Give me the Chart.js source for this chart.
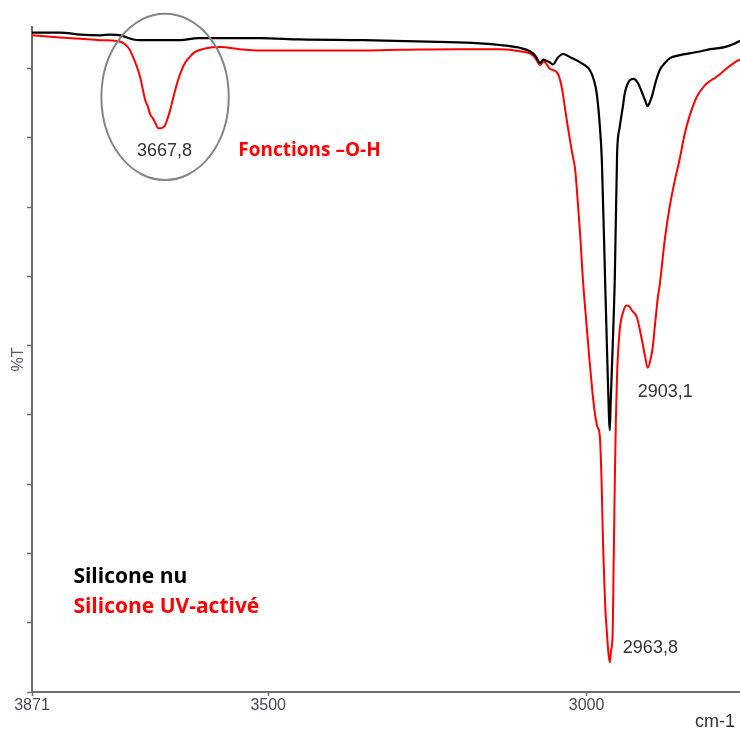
<!DOCTYPE html>
<html lang="fr">
<head>
<meta charset="utf-8">
<title>Spectre IR - silicone</title>
<script src="https://cdn.jsdelivr.net/npm/chart.js@4.4.1/dist/chart.umd.min.js"></script>
<style>
  html, body { margin: 0; padding: 0; background: #fff; }
  #wrap { position: relative; width: 740px; height: 731px; }
</style>
</head>
<body>
<div id="wrap"><canvas id="irChart"></canvas></div>
<script>
// IR spectrum (%T vs cm-1), silicone bare vs UV-activated
// values

// x axis: wavenumber range and the labelled ticks
const xTicks = [3871, 3500, 3000];
const xRange = [2759, 3871];
const yTickValues = [0, 10, 20, 30, 40, 50, 60, 70, 80, 90];

// Silicone nu (black)
const nuWavenumbers = [
  3871, 3827, 3795, 3764, 3748, 3732, 3712, 3701, 3670, 3638, 3610, 3591, 3513, 3450,
  3350, 3250, 3180, 3136, 3105, 3089, 3080, 3073, 3068, 3065, 3058, 3053, 3045, 3037,
  3025, 3010, 3000, 2995, 2989, 2984, 2979, 2976, 2971, 2968, 2966.5, 2963.5, 2962,
  2959, 2955.6, 2952, 2948, 2943, 2940, 2932, 2926, 2920, 2914, 2908, 2904, 2900, 2897,
  2891, 2885, 2877, 2869, 2855, 2838, 2820, 2806, 2783, 2770, 2759
];
const nuTransmittance = [
  95.2, 95.2, 94.9, 94.8, 94.9, 94.8, 94.2, 94.1, 94.1, 94.1, 94.4, 94.4, 94.4, 94.2,
  94.1, 93.9, 93.7, 93.4, 93.0, 92.5, 91.8, 90.8, 91.3, 91.2, 90.9, 90.6, 91.6, 92.1,
  91.6, 90.9, 90.3, 89.8, 88.5, 86.4, 81.5, 76.8, 59.9, 49.8, 45.0, 37.8, 42.1,
  49.8, 59.9, 77.8, 81.5, 84.5, 86.4, 88.3, 88.5, 88.0, 86.8, 85.4, 84.6, 85.3, 86.1,
  88.2, 89.8, 90.8, 91.5, 91.9, 92.2, 92.5, 92.8, 93.1, 93.5, 94.0
];

// Silicone UV-activé (red)
const uvWavenumbers = [
  3871, 3827, 3795, 3764, 3740, 3730, 3725, 3718, 3712, 3706, 3701, 3697, 3693, 3689,
  3685, 3681, 3677, 3673, 3668, 3662, 3658, 3654, 3650, 3646, 3642, 3638, 3630, 3622,
  3615, 3599, 3575, 3545, 3513, 3450, 3380, 3293, 3200, 3136, 3105, 3084, 3077, 3073,
  3068, 3065, 3058, 3047, 3043, 3039, 3035, 3031, 3027, 3023, 3018, 3014, 3010, 3006,
  3000, 2995, 2991, 2987, 2983, 2979, 2976, 2974, 2971, 2968, 2965.5, 2963.5, 2961.5,
  2959, 2957.5, 2955.6, 2954, 2952, 2948, 2943, 2937, 2933, 2929, 2921, 2913, 2908,
  2904, 2900, 2896, 2892, 2888, 2885, 2877, 2869, 2861, 2854, 2846, 2838, 2827, 2814,
  2806, 2799, 2790, 2783, 2767, 2759
];
const uvTransmittance = [
  94.8, 94.5, 94.3, 94.1, 94.0, 93.8, 93.5, 92.8, 91.6, 90.2, 88.7, 87.0, 85.4, 84.5,
  83.3, 82.8, 82.1, 81.4, 81.4, 81.8, 82.8, 84.0, 85.5, 86.9, 88.2, 89.3, 90.9, 91.8,
  92.4, 92.9, 93.1, 92.8, 92.6, 92.6, 92.6, 92.7, 92.8, 92.8, 92.5, 91.9, 91.0, 90.5,
  91.0, 90.9, 90.0, 89.5, 88.8, 87.3, 85.0, 82.5, 80.2, 78.0, 75.5, 71.0, 66.0, 59.9,
  53.0, 47.5, 43.5, 40.3, 38.3, 36.8, 29.0, 21.0, 13.0, 8.5, 5.5, 4.3, 6.0,
  8.5, 18.0, 30.6, 39.0, 46.0, 52.2, 54.7, 55.8, 55.7, 55.1, 54.1, 50.8, 48.4,
  46.8, 47.8, 49.8, 53.5, 57.0, 58.8, 65.4, 70.3, 74.0, 76.8, 80.5, 83.2, 85.9, 87.6,
  88.2, 88.6, 89.2, 89.8, 90.9, 91.3
];

// peak labels (anchored in data units: wavenumber, %T)
const peakLabels = ['3667,8', '2903,1', '2963,8'];
const peakAnchors = [[3663, 78.1], [2919.5, 43.3], [2943, 6.3]];

// coloured notes and legend text
const noteTexts = ['Fonctions \u2013O-H', 'Silicone nu', 'Silicone UV-activ\u00e9'];
const noteColors = ['#ff0000', '#000000', '#ff0000'];
const noteAnchors = [[3547, 78.2], [3806, 16.6], [3806, 12.3]];

// circle round the O-H band: centre and radii in data units
const ohCircle = { x: 3662, y: 85.9, rx: 100, ry: 12 };

const xUnitLabel = 'cm-1';

function toPoints(xs, ys) {
  return xs.map((w, i) => ({ x: w, y: ys[i] }));
}

// draws the circle, peak numbers, coloured texts and the unit label
const notesPlugin = {
  id: 'notes',
  afterDatasetsDraw(chart) {
    const { ctx, chartArea } = chart;
    const xs = chart.scales.x;
    const ys = chart.scales.y;
    ctx.save();

    // ellipse
    const cx = xs.getPixelForValue(ohCircle.x);
    const cy = ys.getPixelForValue(ohCircle.y);
    const rx = Math.abs(xs.getPixelForValue(ohCircle.x - ohCircle.rx) - cx);
    const ry = Math.abs(ys.getPixelForValue(ohCircle.y - ohCircle.ry) - cy);
    ctx.beginPath();
    ctx.ellipse(cx, cy, rx, ry, 0, 0, Math.PI * 2);
    ctx.strokeStyle = '#858585';
    ctx.lineWidth = 2;
    ctx.stroke();

    // peak numbers
    ctx.font = '18px "Liberation Sans", Arial, sans-serif';
    ctx.fillStyle = '#333333';
    ctx.textBaseline = 'middle';
    peakLabels.forEach((txt, i) => {
      const px = xs.getPixelForValue(peakAnchors[i][0]);
      const py = ys.getPixelForValue(peakAnchors[i][1]);
      ctx.textAlign = i === 0 ? 'center' : 'left';
      ctx.fillText(txt, px, py);
    });

    // notes / legend
    ctx.textAlign = 'left';
    noteTexts.forEach((txt, i) => {
      ctx.font = (i === 0 ? 'bold 19px' : 'bold 21px') + ' "Open Sans", sans-serif';
      ctx.fillStyle = noteColors[i];
      ctx.fillText(txt, xs.getPixelForValue(noteAnchors[i][0]), ys.getPixelForValue(noteAnchors[i][1]));
    });

    // unit label under the right end of the x axis
    ctx.font = '18px "Liberation Sans", Arial, sans-serif';
    ctx.fillStyle = '#333333';
    ctx.textAlign = 'right';
    ctx.fillText(xUnitLabel, chartArea.right - 5, chartArea.bottom + 30);

    ctx.restore();
  }
};

new Chart(document.getElementById('irChart').getContext('2d'), {
  type: 'line',
  data: {
    datasets: [
      {
        label: 'Silicone nu',
        data: toPoints(nuWavenumbers, nuTransmittance),
        borderColor: '#000000',
        borderWidth: 2.2,
        pointRadius: 0,
        cubicInterpolationMode: 'monotone',
        fill: false
      },
      {
        label: 'Silicone UV-activé',
        data: toPoints(uvWavenumbers, uvTransmittance),
        borderColor: '#ff0000',
        borderWidth: 2,
        pointRadius: 0,
        cubicInterpolationMode: 'monotone',
        fill: false
      }
    ]
  },
  options: {
    responsive: true,
    maintainAspectRatio: false,
    animation: false,
    layout: { padding: { top: 27, right: 0, left: 0, bottom: 0 } },
    plugins: {
      legend: { display: false },
      tooltip: { enabled: false }
    },
    scales: {
      x: {
        type: 'linear',
        reverse: true,
        min: xRange[0],
        max: xRange[1],
        afterBuildTicks(scale) {
          scale.ticks = xTicks.map((v) => ({ value: v }));
        },
        afterFit(scale) {
          scale.height = 39;
        },
        ticks: {
          color: '#454a54',
          font: { family: '"Liberation Sans Narrow", "Liberation Sans", Arial', size: 16 },
          padding: 0,
          maxRotation: 0,
          callback: (v) => String(v)
        },
        grid: {
          drawOnChartArea: false,
          tickLength: 4,
          color: '#6e6e6e',
          tickWidth: 1.5
        },
        border: { color: '#6e6e6e', width: 2 },
        title: { display: false }
      },
      y: {
        min: 0,
        max: 96,
        afterBuildTicks(scale) {
          scale.ticks = yTickValues.map((v) => ({ value: v }));
        },
        afterFit(scale) {
          scale.width = 32;
        },
        ticks: { display: false },
        grid: {
          drawOnChartArea: false,
          tickLength: 5,
          color: '#6e6e6e',
          tickWidth: 1.5
        },
        border: { color: '#6e6e6e', width: 2 },
        title: {
          display: true,
          text: '%T',
          align: 'center',
          color: '#555a64',
          font: { family: '"Liberation Sans Narrow", "Liberation Sans", Arial', size: 16 },
          padding: { top: 9, bottom: 0 }
        }
      }
    }
  },
  plugins: [notesPlugin]
});
</script>
</body>
</html>
